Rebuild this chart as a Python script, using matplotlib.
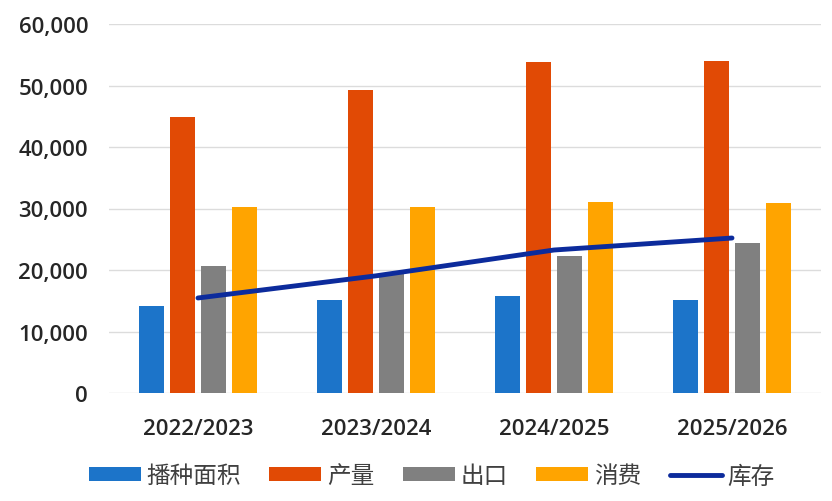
import matplotlib
matplotlib.use('Agg')
import matplotlib.pyplot as plt
import numpy as np

plt.rcParams['font.family'] = ['Noto Sans CJK SC', 'DejaVu Sans']

# data
years = ['2022/2023', '2023/2024', '2024/2025', '2025/2026']
area = [14200, 15050, 15700, 15050]        # 播种面积
production = [44850, 49200, 53800, 54000]  # 产量
exports = [20600, 19350, 22350, 24400]     # 出口
consumption = [30200, 30200, 31100, 30900] # 消费
stocks = [15450, 19050, 23250, 25200]      # 库存

bar_names = ['播种面积', '产量', '出口', '消费']
bar_colors = ['#1c74c9', '#e14a05', '#808080', '#ffa400']
line_color = '#0c2b9c'

fig = plt.figure(figsize=(8.32, 5.02), dpi=100)
ax = fig.add_axes([109 / 832, 108 / 502, 712 / 832, 369 / 502])

x = np.arange(len(years))
width = 0.14
step = 0.175
series = [area, production, exports, consumption]
handles = []
for i, vals in enumerate(series):
    b = ax.bar(x + (i - 1.5) * step, vals, width, color=bar_colors[i],
               label=bar_names[i], zorder=2)
    handles.append(b)

ln, = ax.plot(x, stocks, color=line_color, lw=3.5, solid_capstyle='round',
              label='库存', zorder=3)
handles.append(ln)

ax.set_xlim(-0.5, 3.5)
ax.set_ylim(0, 60000)
ax.set_yticks(np.arange(0, 60001, 10000))
ax.set_yticklabels([f'{v:,}' for v in range(0, 60001, 10000)])
ax.set_xticks(x)
ax.set_xticklabels(years)
ax.grid(axis='y', color='#dcdcdc', lw=1, zorder=0)
ax.set_axisbelow(True)
for s in ax.spines.values():
    s.set_visible(False)
ax.tick_params(axis='both', length=0)
ax.tick_params(axis='y', pad=15)
ax.tick_params(axis='x', pad=18)
for lab in ax.get_xticklabels() + ax.get_yticklabels():
    lab.set_family(['Open Sans', 'DejaVu Sans'])
    lab.set_fontweight('semibold')
    lab.set_fontsize(16)
    lab.set_color('#262626')

leg = fig.legend(handles, bar_names + ['库存'], loc='center',
                 bbox_to_anchor=(0.519, 0.05), ncol=5, frameon=False,
                 fontsize=17, handlelength=2.2, handleheight=0.5,
                 columnspacing=1.2, handletextpad=0.25)
for t in leg.get_texts():
    t.set_color('#404040')

fig.savefig('out.png', dpi=100)
